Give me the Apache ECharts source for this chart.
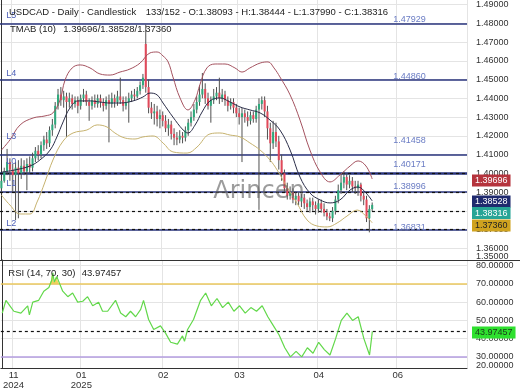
<!DOCTYPE html>
<html><head><meta charset="utf-8">
<script src="https://cdn.jsdelivr.net/npm/echarts@6.0.0/dist/echarts.min.js"></script>
<style>html,body{margin:0;padding:0;background:#fff}#c{width:520px;height:390px}</style>
</head><body><div id="c"></div>
<script>
const FONT = 'Liberation Sans, Arial, Helvetica, sans-serif';
const slotCount = 165;
const tickSlots = [4, 28, 57, 84, 112, 140];
const tickLabels = ['11\n2024', '01\n2025', '02', '03', '04', '06'];
const priceTicks = [1.36, 1.37, 1.38, 1.39, 1.40, 1.41, 1.42, 1.43, 1.44, 1.45, 1.46, 1.47, 1.48, 1.49];
const rsiTicks = [30, 40, 50, 60, 70, 80];

const opens = [1.3920,1.3960,1.4010,1.4060,1.4020,1.3990,1.4030,1.4000,1.4040,1.4010,1.4050,1.4030,1.4080,1.4120,1.4100,1.4150,1.4180,1.4160,1.4230,1.4260,
1.4360,1.4420,1.4390,1.4410,1.4380,1.4400,1.4370,1.4390,1.4360,1.4400,1.4420,1.4380,1.4360,1.4390,1.4370,1.4400,1.4380,1.4360,1.4390,1.4370,
1.4400,1.4380,1.4410,1.4390,1.4360,1.4380,1.4400,1.4420,1.4410,1.4440,1.4470,1.4690,1.4460,1.4350,1.4320,1.4330,1.4290,1.4310,1.4280,1.4240,
1.4260,1.4210,1.4190,1.4180,1.4200,1.4190,1.4230,1.4270,1.4300,1.4340,1.4380,1.4420,1.4450,1.4400,1.4360,1.4390,1.4410,1.4430,1.4400,1.4420,
1.4390,1.4360,1.4380,1.4350,1.4320,1.4300,1.4320,1.4300,1.4280,1.4310,1.4290,1.4340,1.4370,1.4390,1.4330,1.4240,1.4160,1.4220,1.4170,1.4070,
1.4000,1.3920,1.3880,1.3900,1.3860,1.3880,1.3850,1.3870,1.3840,1.3820,1.3850,1.3830,1.3810,1.3840,1.3810,1.3790,1.3770,1.3760,1.3800,1.3860,
1.3910,1.3950,1.3980,1.3940,1.3960,1.3930,1.3920,1.3940,1.3880,1.3860,1.3760,1.38093];
const highs = [1.3985,1.4030,1.4130,1.4080,1.4050,1.4060,1.4070,1.4080,1.4070,1.4080,1.4090,1.4110,1.4140,1.4150,1.4170,1.4200,1.4220,1.4250,1.4290,1.4380,
1.4450,1.4460,1.4440,1.4430,1.4430,1.4420,1.4410,1.4410,1.4420,1.4450,1.4440,1.4400,1.4410,1.4420,1.4420,1.4420,1.4400,1.4410,1.4420,1.4430,
1.4420,1.4440,1.4510,1.4410,1.4410,1.4430,1.4440,1.4450,1.4460,1.4490,1.4530,1.4793,1.4500,1.4380,1.4370,1.4360,1.4340,1.4330,1.4310,1.4290,
1.4280,1.4240,1.4220,1.4230,1.4220,1.4250,1.4290,1.4330,1.4370,1.4410,1.4470,1.4535,1.4480,1.4430,1.4410,1.4450,1.4460,1.4510,1.4450,1.4440,
1.4410,1.4400,1.4400,1.4370,1.4350,1.4350,1.4340,1.4330,1.4330,1.4330,1.4360,1.4400,1.4410,1.4410,1.4360,1.4270,1.4280,1.4270,1.4200,1.4100,
1.4020,1.3950,1.3930,1.3920,1.3900,1.3900,1.3890,1.3890,1.3860,1.3870,1.3870,1.3850,1.3860,1.3860,1.3840,1.3810,1.3790,1.3820,1.3880,1.3940,
1.4000,1.4010,1.4000,1.3990,1.3980,1.3960,1.3960,1.3950,1.3900,1.3880,1.3830,1.38444];
const lows = [1.3900,1.3950,1.3990,1.3960,1.3900,1.3750,1.3760,1.3970,1.3990,1.3910,1.4000,1.4010,1.4060,1.4070,1.4080,1.4120,1.4130,1.4140,1.4200,1.4240,
1.4340,1.4360,1.4350,1.4195,1.4350,1.4340,1.4350,1.4320,1.4340,1.4380,1.4360,1.4280,1.4340,1.4350,1.4350,1.4350,1.4330,1.4340,1.4165,1.4350,
1.4350,1.4360,1.4370,1.4330,1.4340,1.4270,1.4380,1.4390,1.4400,1.4420,1.4450,1.4430,1.4320,1.4290,1.4260,1.4250,1.4240,1.4250,1.4220,1.4200,
1.4180,1.4150,1.4150,1.4160,1.4160,1.4170,1.4200,1.4250,1.4280,1.4320,1.4360,1.4400,1.4370,1.4340,1.4270,1.4370,1.4390,1.4370,1.4380,1.4360,
1.4330,1.4340,1.4320,1.4300,1.4260,1.4060,1.4270,1.4250,1.4260,1.4270,1.4270,1.3805,1.4340,1.4300,1.4180,1.4060,1.4130,1.4140,1.4020,1.3960,
1.3900,1.3860,1.3860,1.3840,1.3830,1.3830,1.3820,1.3810,1.3800,1.3790,1.3800,1.3780,1.3790,1.3790,1.3770,1.3750,1.3745,1.3740,1.3780,1.3840,
1.3890,1.3920,1.3910,1.3920,1.3900,1.3890,1.3880,1.3850,1.3830,1.3740,1.3685,1.37990];
const closes = [1.3960,1.4010,1.4060,1.4020,1.3990,1.4030,1.4000,1.4040,1.4010,1.4050,1.4030,1.4080,1.4120,1.4100,1.4150,1.4180,1.4160,1.4230,1.4260,1.4360,
1.4420,1.4390,1.4410,1.4380,1.4400,1.4370,1.4390,1.4360,1.4400,1.4420,1.4380,1.4360,1.4390,1.4370,1.4400,1.4380,1.4360,1.4390,1.4370,1.4400,
1.4380,1.4410,1.4390,1.4360,1.4380,1.4400,1.4420,1.4410,1.4440,1.4470,1.4510,1.4460,1.4350,1.4320,1.4330,1.4290,1.4310,1.4280,1.4240,1.4260,
1.4210,1.4190,1.4180,1.4200,1.4190,1.4230,1.4270,1.4300,1.4340,1.4380,1.4420,1.4450,1.4400,1.4360,1.4390,1.4410,1.4430,1.4400,1.4420,1.4390,
1.4360,1.4380,1.4350,1.4320,1.4300,1.4320,1.4300,1.4280,1.4310,1.4290,1.4340,1.4370,1.4390,1.4330,1.4240,1.4160,1.4220,1.4170,1.4070,1.4000,
1.3920,1.3880,1.3900,1.3860,1.3880,1.3850,1.3870,1.3840,1.3820,1.3850,1.3830,1.3810,1.3840,1.3810,1.3790,1.3770,1.3760,1.3800,1.3860,1.3910,
1.3950,1.3980,1.3940,1.3960,1.3930,1.3920,1.3940,1.3880,1.3860,1.3760,1.3810,1.38316];

const upperSlots = [0,3,6.6,11.2,15.4,18.2,20.7,22.5,25,27.8,31.3,34.8,38.4,41.9,45.4,49,52.5,55,57.1,58.9,60.6,63.1,65.9,68.4,70.2,72.6,75.5,79,82.5,85,87.8,91.4,94.2,96.3,98.4,102,105.5,109,112.6,116.1,119.6,123.2,126,128.8,131];
const upperVals = [1.4124,1.4178,1.4258,1.4295,1.4306,1.4322,1.4391,1.4498,1.4562,1.4578,1.4562,1.4530,1.4524,1.4540,1.4556,1.4588,1.4642,1.4647,1.4626,1.4594,1.4514,1.4402,1.4338,1.4391,1.4476,1.4562,1.4583,1.4583,1.4562,1.4540,1.4562,1.4588,1.4594,1.4562,1.4514,1.4418,1.4284,1.4124,1.4007,1.3954,1.3991,1.4039,1.4066,1.4039,1.39696];
const midSlots = [0,4.8,10.1,13.6,17.2,19.6,21.8,24.2,27.1,31.3,34.8,38.4,41.9,46.5,50,52.5,55,57.1,60.6,64.2,65.9,68.4,70.9,73.7,77.2,80.8,84.3,87.8,91.4,94.9,98.4,102,105.5,109,112.6,116.1,119.6,123.2,126,128.8,131];
const midVals = [1.4006,1.4018,1.4039,1.4071,1.4124,1.4194,1.4274,1.4348,1.4386,1.4386,1.4380,1.4375,1.4375,1.4386,1.4407,1.4428,1.4418,1.4375,1.4300,1.4231,1.4215,1.4257,1.4327,1.4386,1.4402,1.4380,1.4354,1.4338,1.4322,1.4284,1.4231,1.4124,1.3980,1.3895,1.3858,1.3842,1.3858,1.3911,1.3927,1.3895,1.38528];
const lowerSlots = [0,3,6.6,10.1,12.6,15.4,18.2,21.8,25.3,30.2,33.8,37.3,40.1,43.7,47.2,50,53.6,57.1,60.6,65.6,69.1,73.7,77.2,80.8,84.3,87.8,91.4,94.9,97.4,100.9,104.4,108,111.5,115.1,118.6,122.1,125.7,128.8,131];
const lowerVals = [1.3884,1.3831,1.3783,1.3783,1.3847,1.3954,1.4071,1.4172,1.4215,1.4231,1.4258,1.4247,1.4215,1.4188,1.4183,1.4194,1.4199,1.4162,1.4114,1.4108,1.4140,1.4210,1.4215,1.4204,1.4194,1.4162,1.4124,1.4071,1.4018,1.3927,1.3842,1.3751,1.3719,1.3714,1.3735,1.3772,1.3804,1.3772,1.37360];

const rsiSlots = [0,1.3,2.7,4.1,6.6,9,9.6,10.8,12.9,14.7,16.5,17.5,17.9,18.4,19.3,19.8,21.4,23.2,24.9,26.7,28.5,30.2,32,34.1,35.5,37.3,40.1,41.9,43.7,45.4,47.2,49,50,51.8,53.6,56,57.8,59.6,62,63.8,64.5,65.6,67.7,70.2,72,74,76,78,80,82,84,86,88,90,92,94,96,98,100,102,104,106,108,110,112,114,116,118,120,122,124,126,128,130,131];
const rsiVals = [54,61,58,55,54,58,53,60,61,66,68,72,76,71,74,75,66,63,65,60,60.5,63,58,60,55,55,61,54,52,55,52,56,61,50.5,45,47,43,38,37,41.5,38.5,45,50.5,61,65,58,62,57,60,55,58,54,57,55,58,52,47,42,35,30,33,30,35,32,38,34,31,40,50,54,50,52,40,31,43.97457];

const levels = [1.47929, 1.44860, 1.41458, 1.40171, 1.38996, 1.36831];
const levelNames = ['L5', 'L4', 'L3', 'L0', 'L1', 'L2'];
const rsiUpper = 70, rsiLower = 30;

const UP = '#2fa97c', DOWN = '#e2495a';
const last = closes.length - 1;
const categories = Array.from({length: slotCount}, (_, i) => String(i));
const tickMap = {}; tickSlots.forEach((s, k) => tickMap[s] = tickLabels[k]);
const isTick = (i) => tickMap[i] !== undefined;
const pairs = (xs, ys) => xs.map((x, k) => [x, ys[k]]);
const candleData = opens.map((o, i) => [i, o, highs[i], lows[i], closes[i]]);
const upLast = upperVals[upperVals.length - 1], midLast = midVals[midVals.length - 1], lowLast = lowerVals[lowerVals.length - 1];
const rsiLast = rsiVals[rsiVals.length - 1];
const axisEnd = slotCount - 0.5;
const CLEAR = 'rgba(0,0,0,0)';

// text-only marks placed through the axes
const textMark = (slot, v, text, color, dy) => ({
  coord: [slot, v], symbol: 'rect', symbolSize: 1, symbolOffset: [0, dy], itemStyle: {color: CLEAR},
  label: {show: true, position: 'inside', formatter: text, color: color, fontSize: 9, fontFamily: FONT}
});
const tagMark = (v, bg, fg, dy) => ({
  coord: [axisEnd, v], symbol: 'rect', symbolSize: 1, symbolOffset: [0, dy], itemStyle: {color: CLEAR},
  label: {show: true, position: 'right', distance: 4.5, formatter: v.toFixed(5), backgroundColor: bg, color: fg,
    padding: [1, 3, 0, 3], lineHeight: 11, fontSize: 9, fontFamily: FONT}
});
const dashLine = (v) => ({yAxis: v, lineStyle: {color: '#111', width: 1.2, type: [3, 3]}});

const chart = echarts.init(document.getElementById('c'), null, {renderer: 'canvas'});
chart.setOption({
  animation: false,
  textStyle: {fontFamily: FONT},
  grid: [
    {left: 0, top: 0, width: 467, height: 260},
    {left: 0, top: 260, width: 467, height: 109},
    {left: 0, top: 260, width: 467, height: 24.12}
  ],
  xAxis: [
    {type: 'category', gridIndex: 0, data: categories, axisLine: {show: false}, axisTick: {show: false}, axisLabel: {show: false},
      splitLine: {show: true, interval: (i) => isTick(i), lineStyle: {color: '#e4e4e4'}}},
    {type: 'value', gridIndex: 0, min: -0.5, max: axisEnd, show: false},
    {type: 'category', gridIndex: 1, data: categories, axisLine: {show: true, lineStyle: {color: '#333'}}, axisTick: {show: false},
      axisLabel: {interval: (i) => isTick(i), formatter: (v) => tickMap[Number(v)] || '', color: '#333', fontSize: 9.5, lineHeight: 10, margin: 2},
      splitLine: {show: true, interval: (i) => isTick(i), lineStyle: {color: '#e4e4e4'}}},
    {type: 'value', gridIndex: 1, min: -0.5, max: axisEnd, show: false},
    {type: 'value', gridIndex: 2, min: -0.5, max: axisEnd, show: false}
  ],
  yAxis: [
    {type: 'value', gridIndex: 0, position: 'right', min: 1.35376, max: 1.49243,
      axisLine: {show: true, lineStyle: {color: '#333'}}, axisTick: {show: false, customValues: priceTicks},
      axisLabel: {customValues: priceTicks, formatter: (v) => v.toFixed(5), margin: 9, color: '#333', fontSize: 9},
      splitLine: {show: true, lineStyle: {color: '#e4e4e4'}}},
    {type: 'value', gridIndex: 1, position: 'right', min: 23.9, max: 83.1,
      axisLine: {show: true, lineStyle: {color: '#333'}}, axisTick: {show: false, customValues: rsiTicks},
      axisLabel: {customValues: rsiTicks, formatter: (v) => v.toFixed(5), margin: 9, color: '#333', fontSize: 9},
      splitLine: {show: true, lineStyle: {color: '#e4e4e4'}}},
    {type: 'value', gridIndex: 2, min: 70, max: 83.1, show: false}
  ],
  series: [
    {type: 'line', xAxisIndex: 1, yAxisIndex: 0, data: pairs(upperSlots, upperVals), smooth: 0.4, symbol: 'none', z: 4,
      lineStyle: {color: '#a4525f', width: 1}},
    {type: 'line', xAxisIndex: 1, yAxisIndex: 0, data: pairs(midSlots, midVals), smooth: 0.4, symbol: 'none', z: 4,
      lineStyle: {color: '#2a2d48', width: 1},
      markLine: {silent: true, symbol: 'none', z: 2, label: {show: false},
        data: levels.map((v, k) => ({yAxis: v, lineStyle: {color: '#28337c', width: k === 3 ? 2.5 : 1.5, type: 'solid'}}))
          .concat([dashLine(upLast), dashLine(midLast), dashLine(closes[last]), dashLine(lowLast)])
      }},
    {type: 'line', xAxisIndex: 1, yAxisIndex: 0, data: pairs(lowerSlots, lowerVals), smooth: 0.4, symbol: 'none', z: 4,
      lineStyle: {color: '#c6b26e', width: 1},
      markPoint: {silent: true, z: 6, animation: false,
        data: levels.map((v) => textMark(144.2, v, v.toFixed(5), '#6a7cc4', -5.3))
          .concat(levels.map((v, k) => textMark(3.5, v, levelNames[k], '#5062b8', -9)))
          .concat([tagMark(upLast, '#b5343d', '#fff', 1.5), tagMark(midLast, '#1f2a6e', '#fff', 0.7),
                   tagMark(closes[last], '#27a596', '#fff', 8.2), tagMark(lowLast, '#cfa21f', '#222', 2.7)])
      }},
    {type: 'custom', xAxisIndex: 0, yAxisIndex: 0, data: candleData, z: 3, encode: {x: 0, y: [1, 2, 3, 4]},
      renderItem: function (params, api) {
        const i = api.value(0), o = api.value(1), h = api.value(2), l = api.value(3), c = api.value(4);
        const ph = api.coord([i, h]), pl = api.coord([i, l]), po = api.coord([i, o]), pc = api.coord([i, c]);
        const bw = Math.max(1.5, api.size([1, 0])[0] * 0.72);
        const x = ph[0];
        const top = Math.min(po[1], pc[1]), bot = Math.max(po[1], pc[1]);
        return {type: 'group', children: [
          {type: 'line', shape: {x1: x, y1: ph[1], x2: x, y2: pl[1]}, style: {stroke: '#505050', lineWidth: 1}},
          {type: 'rect', shape: {x: x - bw / 2, y: top, width: bw, height: Math.max(1, bot - top)}, style: {fill: c >= o ? UP : DOWN}}
        ]};
      }},
    {type: 'line', xAxisIndex: 4, yAxisIndex: 2, data: pairs(rsiSlots, rsiVals), symbol: 'none', z: 1,
      lineStyle: {width: 0, opacity: 0}, areaStyle: {color: '#f2d35c', opacity: 1, origin: 'start'}},
    {type: 'line', xAxisIndex: 3, yAxisIndex: 1, data: pairs(rsiSlots, rsiVals), symbol: 'none', z: 3,
      lineStyle: {color: '#62d84a', width: 1.2},
      markLine: {silent: true, symbol: 'none', z: 2, label: {show: false}, data: [
        {yAxis: rsiUpper, lineStyle: {color: '#ebc85e', width: 1.5, type: 'solid'}},
        {yAxis: rsiLower, lineStyle: {color: '#b59ee0', width: 1.5, type: 'solid'}},
        dashLine(rsiLast)
      ]},
      markPoint: {silent: true, z: 6, animation: false, data: [tagMark(rsiLast, '#2fe02f', '#1a3a1a', 1.2)]}}
  ],
  graphic: [
    {type: 'line', shape: {x1: 0, y1: 260.5, x2: 520, y2: 260.5}, style: {stroke: '#333', lineWidth: 1}, z: 10},
    {type: 'text', left: 476, top: 252, style: {text: '1.35000', fill: '#333', font: '9px ' + FONT}, z: 10},
    {type: 'text', left: 476, top: 361.5, style: {text: '20.00000', fill: '#333', font: '9px ' + FONT}, z: 10},
    {type: 'text', x: 9, y: 12.3, style: {text: 'USDCAD - Daily - Candlestick', fill: '#222', font: '9.5px ' + FONT, verticalAlign: 'middle'}, z: 10},
    {type: 'text', x: 145.7, y: 12.3, style: {text: '133/152 - O:' + opens[last].toFixed(5) + ' - H:' + highs[last].toFixed(5) + ' - L:' + lows[last].toFixed(5) + ' - C:' + closes[last].toFixed(5), fill: '#222', font: '9.5px ' + FONT, verticalAlign: 'middle'}, z: 10},
    {type: 'text', x: 10, y: 29.7, style: {text: 'TMAB (10)', fill: '#222', font: '9.5px ' + FONT, verticalAlign: 'middle'}, z: 10},
    {type: 'text', x: 63.3, y: 29.7, style: {text: upLast.toFixed(5) + '/' + midLast.toFixed(5) + '/' + lowLast.toFixed(5), fill: '#222', font: '9.5px ' + FONT, verticalAlign: 'middle'}, z: 10},
    {type: 'text', x: 8.3, y: 273.3, style: {text: 'RSI (14, 70, 30)', fill: '#222', font: '9.5px ' + FONT, verticalAlign: 'middle'}, z: 10},
    {type: 'text', x: 81.7, y: 273.3, style: {text: rsiLast.toFixed(5), fill: '#222', font: '9.5px ' + FONT, verticalAlign: 'middle'}, z: 10},
    {type: 'text', x: 259, y: 192, style: {text: 'Arincen', fill: 'rgba(95,95,95,0.62)', font: '24px DejaVu Sans', align: 'center', verticalAlign: 'middle'}, z: 20}
  ]
});
</script></body></html>
